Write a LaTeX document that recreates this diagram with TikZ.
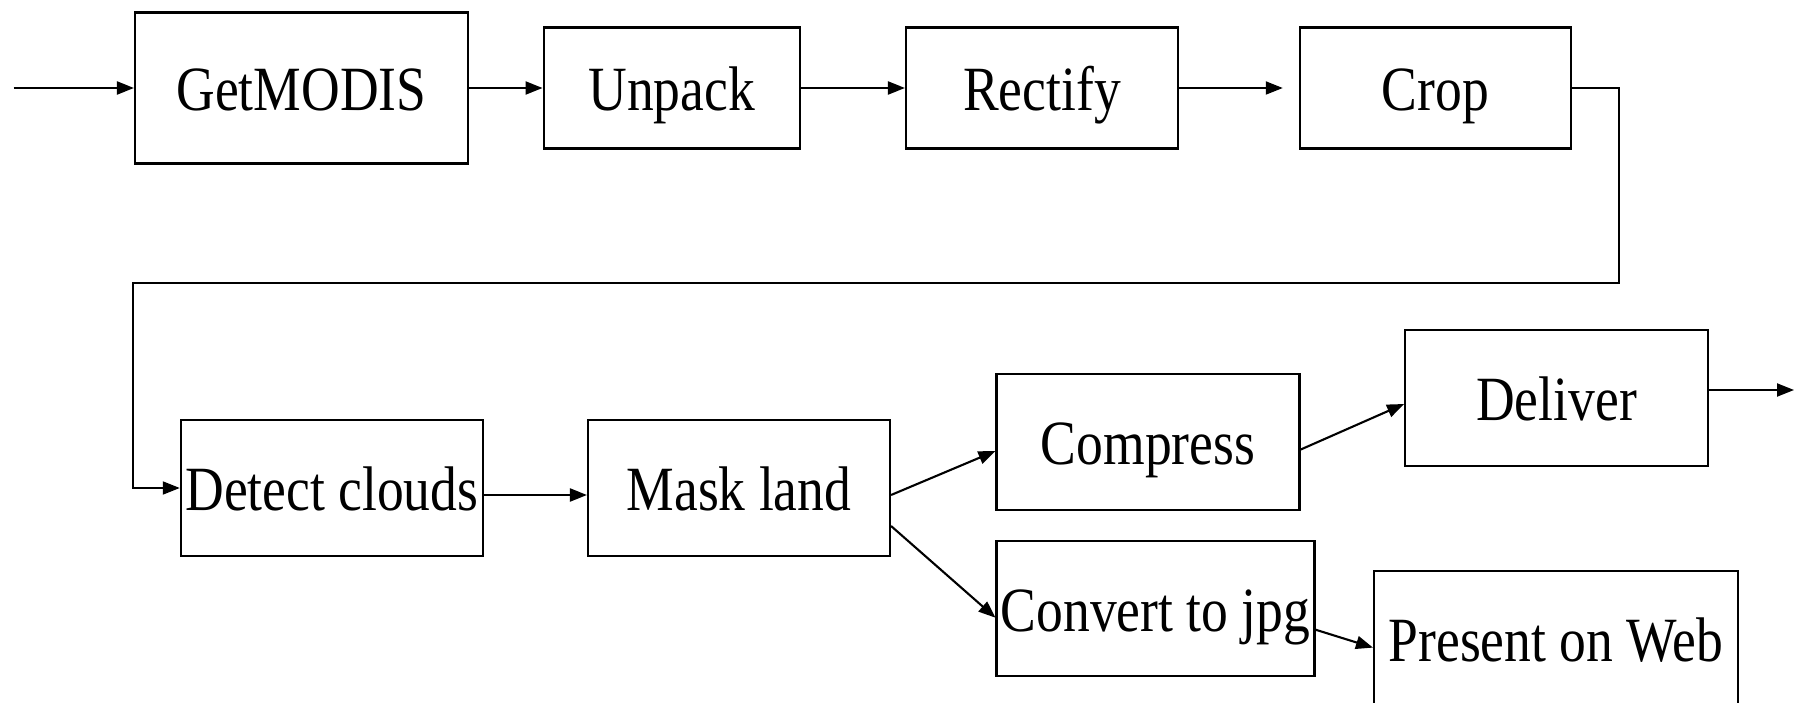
\documentclass[tikz,border=0pt]{standalone}
\usepackage{fontspec}
\setmainfont{Liberation Serif}[FakeStretch=0.85]
\usetikzlibrary{arrows.meta,calc}
\begin{document}
\begin{tikzpicture}[x=1pt,y=-1pt,
  box/.style={draw,line width=2.1pt,inner sep=0pt,text height=50pt,text depth=5pt,font=\fontsize{63}{70}\selectfont},
  arr/.style={line width=2.1pt,-{Triangle[length=17pt,width=13pt]}},
  ln/.style={line width=2.1pt}]
\useasboundingbox (0,0) rectangle (1794,703);
\begin{scope}
\clip (0,0) rectangle (1794,703);
\node[box,minimum width=333pt,minimum height=151pt] (getmodis) at (301.5,88) {GetMODIS};
\node[box,minimum width=256pt,minimum height=121pt] (unpack) at (671.6,88) {Unpack};
\node[box,minimum width=272pt,minimum height=121pt] (rectify) at (1042,88) {Rectify};
\node[box,minimum width=271pt,minimum height=121pt] (crop) at (1435.3,88) {Crop};
\node[box,minimum width=302pt,minimum height=136pt] (detect) at (331.8,488) {Detect clouds};
\node[box,minimum width=302pt,minimum height=136pt] (mask) at (739,488) {Mask land};
\node[box,minimum width=303pt,minimum height=136pt] (compress) at (1148,442) {Compress};
\node[box,minimum width=303pt,minimum height=136pt] (deliver) at (1556.6,397.6) {Deliver};
\node[box,minimum width=318pt,minimum height=135pt] (convert) at (1155.5,608.7) {Convert to jpg};
\node[box,minimum width=364pt,minimum height=136pt] (present) at (1556,639) {Present on Web};
\coordinate (in) at (13.7,88);
\coordinate (out) at (1794,390);
\coordinate (c1) at (1619,282.6);
\coordinate (c2) at (132.7,282.6);
\draw[arr] (in) -- (getmodis.west);
\draw[arr] (getmodis.east) -- (unpack.west);
\draw[arr] (unpack.east) -- (rectify.west);
\draw[arr,shorten >=16pt] (rectify.east) -- (crop.west);
\draw[arr] (crop.east) -| (c1) -- (c2) |- (detect.west);
\draw[arr] ($(detect.east)+(0,7)$) -- ($(mask.west)+(0,7)$);
\draw[arr] ($(mask.east)+(0,7)$) -- ($(compress.west)+(0,9)$);
\draw[arr] ($(mask.east)+(0,38)$) -- ($(convert.west)+(0,9)$);
\draw[arr] ($(compress.east)+(0,7.6)$) -- ($(deliver.west)+(0,6.4)$);
\draw[arr] ($(convert.east)+(0,21)$) -- ($(present.west)+(0,8.6)$);
\draw[arr] ($(deliver.east)+(0,-7.6)$) -- (out);
\end{scope}
\end{tikzpicture}
\end{document}
